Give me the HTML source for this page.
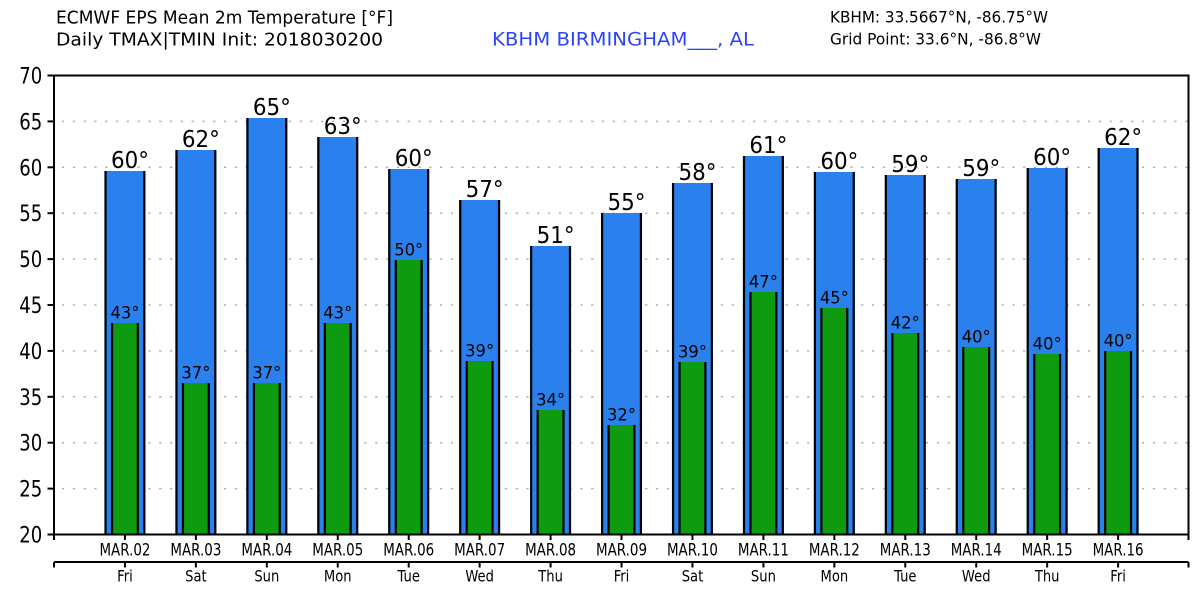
<!DOCTYPE html>
<html><head><meta charset="utf-8"><style>
html,body{margin:0;padding:0;background:#fff;}
svg{display:block;}
text{font-family:"DejaVu Sans","Liberation Sans",sans-serif;}
</style></head><body>
<svg width="1200" height="600" viewBox="0 0 1200 600" xmlns="http://www.w3.org/2000/svg">
<rect width="1200" height="600" fill="#fff"/>
<!-- titles -->
<text x="56" y="23.3" font-size="18" fill="#000" textLength="337" lengthAdjust="spacingAndGlyphs">ECMWF EPS Mean 2m Temperature [°F]</text>
<text x="56" y="45.3" font-size="18" fill="#000" textLength="327" lengthAdjust="spacingAndGlyphs">Daily TMAX|TMIN Init: 2018030200</text>
<text x="492" y="45.7" font-size="19" fill="#2e45f7" textLength="262" lengthAdjust="spacingAndGlyphs">KBHM BIRMINGHAM___, AL</text>
<text x="830" y="22.3" font-size="16" fill="#000" textLength="218" lengthAdjust="spacingAndGlyphs">KBHM: 33.5667°N, -86.75°W</text>
<text x="830" y="44.3" font-size="16" fill="#000" textLength="211" lengthAdjust="spacingAndGlyphs">Grid Point: 33.6°N, -86.8°W</text>

<!-- grid -->
<g stroke="#b0b0b0" stroke-width="1.5" stroke-dasharray="2.2 8.6">
<line x1="62" y1="121.4" x2="1188" y2="121.4"/>
<line x1="62" y1="167.3" x2="1188" y2="167.3"/>
<line x1="62" y1="213.2" x2="1188" y2="213.2"/>
<line x1="62" y1="259.1" x2="1188" y2="259.1"/>
<line x1="62" y1="305" x2="1188" y2="305"/>
<line x1="62" y1="350.9" x2="1188" y2="350.9"/>
<line x1="62" y1="396.8" x2="1188" y2="396.8"/>
<line x1="62" y1="442.7" x2="1188" y2="442.7"/>
<line x1="62" y1="488.6" x2="1188" y2="488.6"/>
</g>

<!-- bars -->
<g id="bars"></g>

<!-- frame -->
<rect x="54" y="75.5" width="1134.5" height="459" fill="none" stroke="#000" stroke-width="2"/>

<!-- y ticks & labels -->
<g stroke="#000" stroke-width="2">
<line x1="47.5" y1="75.5" x2="54" y2="75.5"/>
<line x1="47.5" y1="121.4" x2="54" y2="121.4"/>
<line x1="47.5" y1="167.3" x2="54" y2="167.3"/>
<line x1="47.5" y1="213.2" x2="54" y2="213.2"/>
<line x1="47.5" y1="259.1" x2="54" y2="259.1"/>
<line x1="47.5" y1="305" x2="54" y2="305"/>
<line x1="47.5" y1="350.9" x2="54" y2="350.9"/>
<line x1="47.5" y1="396.8" x2="54" y2="396.8"/>
<line x1="47.5" y1="442.7" x2="54" y2="442.7"/>
<line x1="47.5" y1="488.6" x2="54" y2="488.6"/>
<line x1="47.5" y1="534.5" x2="54" y2="534.5"/>
</g>
<g font-size="22" fill="#000">
<text x="19.3" y="83.5" textLength="23" lengthAdjust="spacingAndGlyphs">70</text>
<text x="19.3" y="129.4" textLength="23" lengthAdjust="spacingAndGlyphs">65</text>
<text x="19.3" y="175.3" textLength="23" lengthAdjust="spacingAndGlyphs">60</text>
<text x="19.3" y="221.2" textLength="23" lengthAdjust="spacingAndGlyphs">55</text>
<text x="19.3" y="267.1" textLength="23" lengthAdjust="spacingAndGlyphs">50</text>
<text x="19.3" y="313" textLength="23" lengthAdjust="spacingAndGlyphs">45</text>
<text x="19.3" y="358.9" textLength="23" lengthAdjust="spacingAndGlyphs">40</text>
<text x="19.3" y="404.8" textLength="23" lengthAdjust="spacingAndGlyphs">35</text>
<text x="19.3" y="450.7" textLength="23" lengthAdjust="spacingAndGlyphs">30</text>
<text x="19.3" y="496.6" textLength="23" lengthAdjust="spacingAndGlyphs">25</text>
<text x="19.3" y="542.5" textLength="23" lengthAdjust="spacingAndGlyphs">20</text>
</g>

<!-- day axis line -->
<line x1="54" y1="562" x2="1188.5" y2="562" stroke="#000" stroke-width="2"/>

<g id="xaxis"></g>
<g id="labels"></g>

<script>
(function(){
var NS="http://www.w3.org/2000/svg";
var blueTop=[171,150,118,137,169,200,246,213,183,156,172,175,179,168,148];
var greenTop=[323,383,383,323,260,361,410,425,362,292,308,333,347,354,351];
var hi=[60,62,65,63,60,57,51,55,58,61,60,59,59,60,62];
var lo=[43,37,37,43,50,39,34,32,39,47,45,42,40,40,40];
var dates=["MAR.02","MAR.03","MAR.04","MAR.05","MAR.06","MAR.07","MAR.08","MAR.09","MAR.10","MAR.11","MAR.12","MAR.13","MAR.14","MAR.15","MAR.16"];
var days=["Fri","Sat","Sun","Mon","Tue","Wed","Thu","Fri","Sat","Sun","Mon","Tue","Wed","Thu","Fri"];
var bot=534.5;
var bars=document.getElementById("bars");
var xa=document.getElementById("xaxis");
var lb=document.getElementById("labels");
function el(tag,attrs,parent,txt){var e=document.createElementNS(NS,tag);for(var k in attrs)e.setAttribute(k,attrs[k]);if(txt!==undefined)e.textContent=txt;parent.appendChild(e);return e;}
function rect(x,y,w,h,f){el("rect",{x:x,y:y,width:w,height:h,fill:f},bars);}
[54,1188.5].forEach(function(x){
 el("line",{x1:x,y1:bot,x2:x,y2:540,stroke:"#000","stroke-width":2},xa);
 el("line",{x1:x,y1:562,x2:x,y2:567.5,stroke:"#000","stroke-width":2},xa);
});
for(var i=0;i<15;i++){
 var c=54+70.94*(i+1);
 var bt=blueTop[i], gt=greenTop[i];
 rect(c-20.5,bt,41,bot-bt,"#2a80ec");
 rect(c-20.5,bt,2.2,bot-bt,"#000");
 rect(c+18.3,bt,2.2,bot-bt,"#000");
 rect(c-14,gt,28,bot-gt,"#0f9b10");
 rect(c-14,gt,2.2,bot-gt,"#000");
 rect(c+11.8,gt,2.2,bot-gt,"#000");
 el("text",{x:c+5-19,y:bt-3,"font-size":23,fill:"#000",textLength:38,lengthAdjust:"spacingAndGlyphs"},lb,hi[i]+"\u00b0");
 el("text",{x:c-14.5,y:gt-4.5,"font-size":16.5,fill:"#000",textLength:29,lengthAdjust:"spacingAndGlyphs"},lb,lo[i]+"\u00b0");
 el("line",{x1:c,y1:bot,x2:c,y2:540,stroke:"#000","stroke-width":2},xa);
 el("line",{x1:c,y1:562,x2:c,y2:567.5,stroke:"#000","stroke-width":2},xa);
 el("text",{x:c-25.5,y:555.3,"font-size":16.5,fill:"#000",textLength:51,lengthAdjust:"spacingAndGlyphs"},lb,dates[i]);
 el("text",{x:0,y:0,"font-size":16,fill:"#000","text-anchor":"middle",transform:"translate("+c+",581.7) scale(0.82,1)"},lb,days[i]);
}
})();
</script>
</svg>
</body></html>
